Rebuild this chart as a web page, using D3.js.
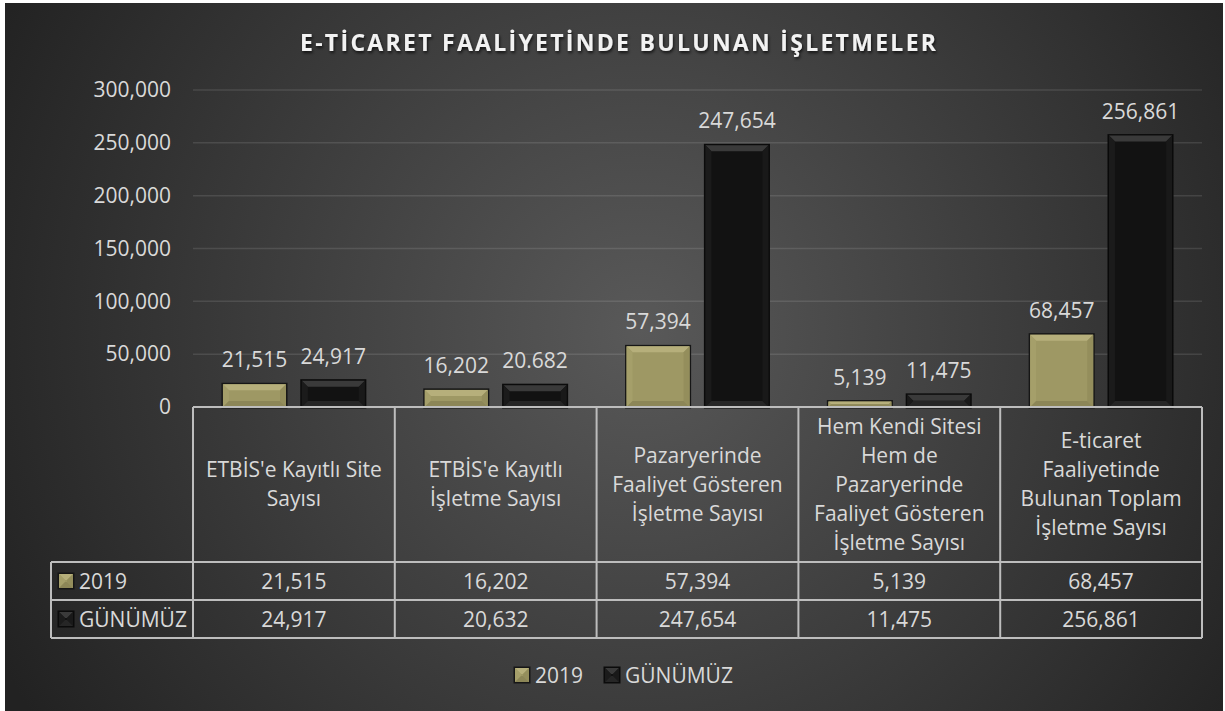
<!DOCTYPE html>
<html>
<head>
<meta charset="utf-8">
<script src="https://cdn.jsdelivr.net/npm/d3@7"></script>
<style>
  body { margin: 0; background: #fff; }
  svg { display: block; font-family: 'Open Sans', sans-serif; }
</style>
</head>
<body>
<script>
const title = 'E-TİCARET FAALİYETİNDE BULUNAN İŞLETMELER';
const categories = [
  "ETBİS'e Kayıtlı Site\nSayısı",
  "ETBİS'e Kayıtlı\nİşletme Sayısı",
  'Pazaryerinde\nFaaliyet Gösteren\nİşletme Sayısı',
  'Hem Kendi Sitesi\nHem de\nPazaryerinde\nFaaliyet Gösteren\nİşletme Sayısı',
  'E-ticaret\nFaaliyetinde\nBulunan Toplam\nİşletme Sayısı'
];
const series = ['2019', 'GÜNÜMÜZ'];
const values2019 = [21515, 16202, 57394, 5139, 68457];
const valuesGunumuz = [24917, 20632, 247654, 11475, 256861];
// data labels as printed on the chart (one differs from the table)
const labels2019 = ['21,515', '16,202', '57,394', '5,139', '68,457'];
const labelsGunumuz = ['24,917', '20.682', '247,654', '11,475', '256,861'];
const yTicks = [0, 50000, 100000, 150000, 200000, 250000, 300000];

const width = 1225;
const height = 711;
const plot = { left: 193, right: 1202, top: 90, bottom: 407 };
const rowH = 38;
const tableBottom = 638;
const headBottom = tableBottom - 2 * rowH;
const tableLeft = 51;

const fmt = d3.format(',');
const seriesValues = [values2019, valuesGunumuz];
const seriesLabels = [labels2019, labelsGunumuz];

const palette = {
  '2019': { main: '#9e9864', top: '#b6af7b', left: '#a59f6a', right: '#948e5c', bottom: '#8c8657', edge: '#161616' },
  'GÜNÜMÜZ': { main: '#121212', top: '#3a3a3a', left: '#1b1b1b', right: '#191919', bottom: '#262626', edge: '#0b0b0b' }
};

const svg = d3.select('body').append('svg')
  .attr('width', width)
  .attr('height', height);

const defs = svg.append('defs');
const bg = defs.append('radialGradient')
  .attr('id', 'bg')
  .attr('gradientUnits', 'userSpaceOnUse')
  .attr('cx', 640).attr('cy', 330).attr('r', 720);
bg.append('stop').attr('offset', '0%').attr('stop-color', '#595959');
bg.append('stop').attr('offset', '100%').attr('stop-color', '#222222');

const shadow = defs.append('filter').attr('id', 'tshadow')
  .attr('x', '-5%').attr('y', '-30%').attr('width', '110%').attr('height', '160%');
shadow.append('feDropShadow')
  .attr('dx', 1).attr('dy', 2).attr('stdDeviation', 1.5)
  .attr('flood-color', '#000').attr('flood-opacity', 0.7);

svg.append('rect')
  .attr('x', 5).attr('y', 3)
  .attr('width', width - 7).attr('height', height - 3)
  .attr('fill', 'url(#bg)');

svg.append('text')
  .attr('x', 618).attr('y', 51)
  .attr('text-anchor', 'middle')
  .attr('font-size', 23)
  .attr('font-weight', 700)
  .attr('textLength', 636)
  .attr('lengthAdjust', 'spacing')
  .attr('fill', '#f2f2f2')
  .attr('filter', 'url(#tshadow)')
  .text(title);

const x = d3.scaleBand()
  .domain(categories)
  .range([plot.left, plot.right]);

const xs = d3.scaleBand()
  .domain(series)
  .range([0, x.bandwidth()])
  .paddingInner(0.2)
  .paddingOuter(0.38);

const y = d3.scaleLinear()
  .domain([0, 300000])
  .range([plot.bottom, plot.top]);

// gridlines
svg.append('g')
  .selectAll('line')
  .data(yTicks.filter(d => d > 0)).enter()
  .append('line')
  .attr('x1', plot.left).attr('x2', plot.right)
  .attr('y1', d => y(d)).attr('y2', d => y(d))
  .attr('stroke', 'rgba(255,255,255,0.11)')
  .attr('stroke-width', 1.5);

// y axis labels
const yAxis = svg.append('g')
  .attr('transform', `translate(${plot.left - 22},0)`)
  .call(d3.axisLeft(y).tickValues(yTicks).tickFormat(fmt).tickSize(0).tickPadding(0));
yAxis.select('.domain').remove();
yAxis.selectAll('text')
  .attr('font-size', 21)
  .attr('font-family', "'Open Sans', sans-serif")
  .attr('fill', '#d9d9d9');

// bevelled block
const bevel = (g, x0, y0, w, h, c) => {
  const b = Math.min(6, h / 2, w / 2);
  g.append('rect')
    .attr('x', x0 - 1.5).attr('y', y0 - 1.5)
    .attr('width', w + 3).attr('height', h + 3)
    .attr('fill', c.edge);
  g.append('rect')
    .attr('x', x0).attr('y', y0)
    .attr('width', w).attr('height', h)
    .attr('fill', c.main);
  const pts = (arr) => arr.map(p => p.join(',')).join(' ');
  const x1 = x0 + w, y1 = y0 + h;
  g.append('polygon').attr('fill', c.top)
    .attr('points', pts([[x0, y0], [x1, y0], [x1 - b, y0 + b], [x0 + b, y0 + b]]));
  g.append('polygon').attr('fill', c.left)
    .attr('points', pts([[x0, y0], [x0 + b, y0 + b], [x0 + b, y1 - b], [x0, y1]]));
  g.append('polygon').attr('fill', c.right)
    .attr('points', pts([[x1, y0], [x1 - b, y0 + b], [x1 - b, y1 - b], [x1, y1]]));
  g.append('polygon').attr('fill', c.bottom)
    .attr('points', pts([[x0, y1], [x0 + b, y1 - b], [x1 - b, y1 - b], [x1, y1]]));
};

// bars
const barsG = svg.append('g');
categories.forEach((cat, i) => {
  series.forEach((s, j) => {
    const v = seriesValues[j][i];
    const bx = x(cat) + xs(s);
    const by = y(v);
    const g = barsG.append('g');
    bevel(g, bx, by, xs.bandwidth(), plot.bottom - by, palette[s]);
    barsG.append('text')
      .attr('x', bx + xs.bandwidth() / 2)
      .attr('y', by - 17)
      .attr('text-anchor', 'middle')
      .attr('font-size', 21)
      .attr('fill', '#d9d9d9')
      .text(seriesLabels[j][i]);
  });
});

// data table
const table = svg.append('g')
  .attr('stroke', '#bdbdbd')
  .attr('stroke-width', 2)
  .attr('fill', 'none');

table.append('line')
  .attr('x1', plot.left).attr('x2', plot.right)
  .attr('y1', plot.bottom).attr('y2', plot.bottom);
[headBottom, headBottom + rowH, tableBottom].forEach(yy => {
  table.append('line')
    .attr('x1', tableLeft).attr('x2', plot.right)
    .attr('y1', yy).attr('y2', yy);
});
table.append('line')
  .attr('x1', tableLeft).attr('x2', tableLeft)
  .attr('y1', headBottom).attr('y2', tableBottom);
categories.forEach(cat => {
  table.append('line')
    .attr('x1', x(cat)).attr('x2', x(cat))
    .attr('y1', plot.bottom).attr('y2', tableBottom);
});
table.append('line')
  .attr('x1', plot.right).attr('x2', plot.right)
  .attr('y1', plot.bottom).attr('y2', tableBottom);

// category header text
const headMid = (plot.bottom + headBottom) / 2;
categories.forEach(cat => {
  const lines = cat.split('\n');
  const t = svg.append('text')
    .attr('text-anchor', 'middle')
    .attr('font-size', 21)
    .attr('fill', '#d9d9d9');
  lines.forEach((ln, k) => {
    t.append('tspan')
      .attr('x', x(cat) + x.bandwidth() / 2)
      .attr('y', headMid + (k - (lines.length - 1) / 2) * 29 + 7)
      .text(ln);
  });
});

// value rows
series.forEach((s, j) => {
  const cy = headBottom + rowH * j + rowH / 2;
  bevel(svg.append('g'), 59, cy - 7, 14, 14, palette[s]);
  svg.append('text')
    .attr('x', 79).attr('y', cy + 8)
    .attr('font-size', 21)
    .attr('fill', '#d9d9d9')
    .text(s);
  categories.forEach((cat, i) => {
    svg.append('text')
      .attr('x', x(cat) + x.bandwidth() / 2)
      .attr('y', cy + 8)
      .attr('text-anchor', 'middle')
      .attr('font-size', 21)
      .attr('fill', '#d9d9d9')
      .text(fmt(seriesValues[j][i]));
  });
});

// legend
const legendX = [515, 605];
series.forEach((s, j) => {
  const cy = 675;
  bevel(svg.append('g'), legendX[j], cy - 7, 14, 14, palette[s]);
  svg.append('text')
    .attr('x', legendX[j] + 20).attr('y', cy + 8)
    .attr('font-size', 21)
    .attr('fill', '#d9d9d9')
    .text(s);
});
</script>
</body>
</html>
